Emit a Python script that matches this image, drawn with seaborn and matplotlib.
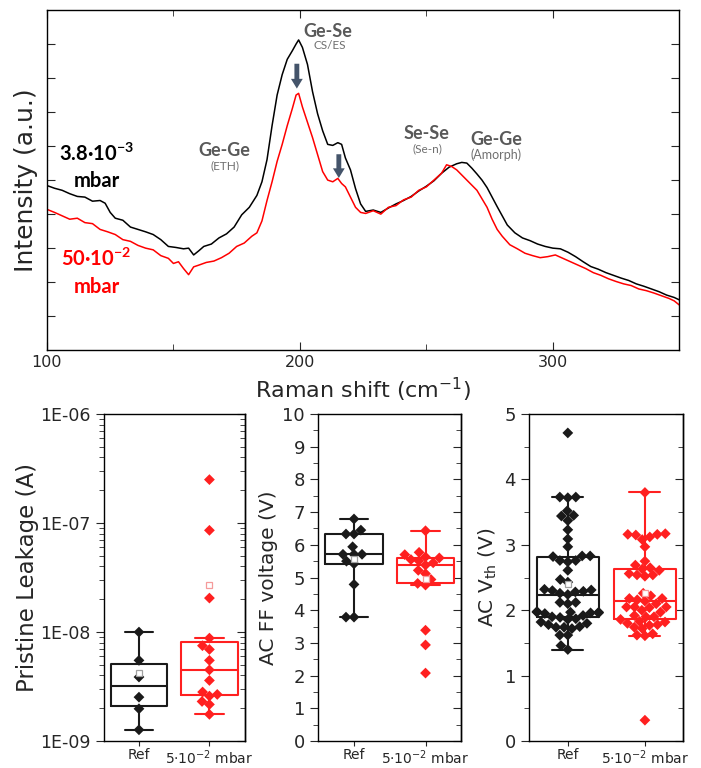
import numpy as np
import pandas as pd
import matplotlib
matplotlib.use('Agg')
import matplotlib.pyplot as plt
import seaborn as sns
from matplotlib.ticker import MultipleLocator, LogLocator, NullFormatter, FixedLocator

# Raman spectra (arbitrary units, 0-10 scale)
shift_low = [100, 103, 106, 109, 112, 115, 118, 121, 123, 125, 127, 130, 133, 136, 139, 142, 145, 148,
             151, 154, 156, 158, 160, 162, 165, 168, 171, 174, 177, 180, 183, 185, 187, 189, 191, 193,
             195, 197, 198.5, 199.5, 201, 203, 205, 207, 209, 211, 213, 215, 216.5, 218, 220, 222, 224,
             226, 229, 232, 235, 238, 241, 244, 247, 250, 253, 256, 259, 262, 264, 266, 268, 270, 272,
             274, 276, 278, 280, 282, 285, 288, 291, 294, 297, 300, 303, 306, 309, 312, 315, 318, 321,
             324, 327, 330, 333, 336, 339, 342, 345, 348, 350]
intensity_low = [4.84, 4.76, 4.70, 4.60, 4.52, 4.50, 4.38, 4.40, 4.32, 4.05, 3.88, 3.82, 3.62, 3.55,
                 3.48, 3.40, 3.25, 3.05, 3.02, 2.98, 3.00, 2.80, 2.92, 3.05, 3.12, 3.30, 3.42, 3.62,
                 3.98, 4.20, 4.55, 4.95, 5.60, 6.60, 7.50, 8.10, 8.55, 8.80, 9.00, 9.12, 8.90, 8.40,
                 7.60, 6.95, 6.45, 6.05, 6.02, 6.10, 6.05, 5.65, 5.30, 4.75, 4.30, 4.08, 4.12, 4.05,
                 4.18, 4.30, 4.40, 4.52, 4.68, 4.82, 4.98, 5.20, 5.38, 5.48, 5.52, 5.50, 5.35, 5.18,
                 5.00, 4.78, 4.50, 4.22, 3.95, 3.68, 3.45, 3.30, 3.22, 3.12, 3.05, 3.00, 2.98, 2.88,
                 2.75, 2.60, 2.46, 2.38, 2.28, 2.20, 2.12, 2.05, 1.95, 1.88, 1.80, 1.72, 1.62, 1.55, 1.48]

shift_high = [100, 103, 106, 109, 112, 115, 118, 121, 124, 127, 130, 133, 136, 139, 142, 145, 148, 150,
              152, 154, 156, 158, 160, 163, 166, 169, 172, 175, 178, 181, 183, 185, 187, 189, 191, 193,
              195, 197, 198.5, 199.5, 201, 203, 205, 207, 209, 211, 213, 215, 216.5, 218, 220, 222, 224,
              226, 229, 232, 235, 238, 241, 244, 247, 250, 253, 256, 258, 260, 262, 264, 266, 268, 270,
              272, 274, 276, 278, 280, 283, 286, 289, 292, 295, 298, 301, 304, 307, 310, 313, 316, 319,
              322, 325, 328, 331, 334, 337, 340, 343, 346, 348, 350]
intensity_high = [4.14, 4.05, 3.95, 3.85, 3.88, 3.75, 3.72, 3.55, 3.48, 3.40, 3.25, 3.20, 3.08, 3.00,
                  2.95, 2.78, 2.70, 2.55, 2.60, 2.40, 2.22, 2.45, 2.50, 2.58, 2.62, 2.72, 2.85, 3.05,
                  3.15, 3.35, 3.45, 3.80, 4.40, 4.95, 5.55, 6.05, 6.60, 7.10, 7.50, 7.55, 7.15, 6.70,
                  6.25, 5.75, 5.25, 5.00, 4.95, 5.05, 4.90, 4.80, 4.50, 4.20, 4.05, 4.02, 4.10, 4.00,
                  4.20, 4.25, 4.42, 4.50, 4.70, 4.80, 5.00, 5.20, 5.45, 5.40, 5.30, 5.15, 5.00, 4.85,
                  4.70, 4.45, 4.20, 3.85, 3.55, 3.35, 3.10, 2.98, 2.85, 2.78, 2.72, 2.75, 2.80, 2.70,
                  2.60, 2.50, 2.40, 2.28, 2.20, 2.10, 2.02, 1.95, 1.90, 1.80, 1.75, 1.68, 1.60, 1.52,
                  1.45, 1.33]

groups = ['Ref', '5·10$^{-2}$ mbar']

# Pristine leakage (A)
leak_ref = [1.0e-8, 5.5e-9, 3.87e-9, 2.53e-9, 1.98e-9, 1.27e-9]
leak_mbar = [2.5e-7, 8.57e-8, 2.05e-8, 8.8e-9, 6.93e-9, 7.5e-9, 5.5e-9, 4.5e-9, 3.6e-9,
             2.68e-9, 2.82e-9, 2.59e-9, 2.31e-9, 2.17e-9, 1.76e-9]

# AC FF voltage (V)
ff_ref = [6.79, 6.33, 6.33, 6.45, 5.94, 5.71, 5.71, 5.71, 5.42, 5.50, 4.79, 3.79, 3.79]
ff_mbar = [6.43, 5.77, 5.70, 5.63, 5.60, 5.55, 5.51, 5.45, 5.38, 5.22, 5.12, 4.94, 4.82, 4.77,
           3.39, 2.94, 2.08]

# AC Vth (V)
vth_ref = [4.71, 3.73, 3.73, 3.72, 3.52, 3.45, 3.44, 3.37, 3.23, 3.09, 2.97, 2.83, 2.83,
           2.82, 2.76, 2.76, 2.74, 2.61, 2.47, 2.43, 2.32, 2.31, 2.30, 2.29, 2.28, 2.26,
           2.24, 2.12, 2.12, 2.10, 1.98, 1.97, 1.97, 1.97, 1.96, 1.96, 1.95, 1.92, 1.90,
           1.89, 1.87, 1.86, 1.82, 1.80, 1.78, 1.75, 1.74, 1.74, 1.72, 1.62, 1.62, 1.46, 1.40]
vth_mbar = [3.80, 3.17, 3.16, 3.16, 3.15, 3.12, 3.08, 2.97, 2.75, 2.69, 2.65,
            2.63, 2.61, 2.56, 2.54, 2.54, 2.52, 2.26, 2.22, 2.18, 2.18, 2.16,
            2.14, 2.10, 2.05, 2.05, 2.05, 2.04, 2.00, 1.97, 1.92, 1.90, 1.90, 1.86,
            1.83, 1.82, 1.80, 1.78, 1.77, 1.74, 1.72, 1.64, 1.62, 1.61, 0.32]

sns.set_style('ticks')
plt.rcParams['font.family'] = ['DejaVu Sans']
plt.rcParams['mathtext.fontset'] = 'custom'
plt.rcParams['mathtext.rm'] = 'DejaVu Sans'
plt.rcParams['mathtext.it'] = 'DejaVu Sans:italic'
plt.rcParams['mathtext.bf'] = 'Lato:bold'
plt.rcParams['axes.linewidth'] = 1.0
plt.rcParams['axes.edgecolor'] = 'black'

fig = plt.figure(figsize=(7.01, 7.68), dpi=100)

# ---------------- Raman spectra ----------------
ax0 = fig.add_axes([0.067, 0.544, 0.902, 0.443])
sns.lineplot(x=shift_low, y=intensity_low, color='black', lw=1.1, sort=False, estimator=None, ax=ax0)
sns.lineplot(x=shift_high, y=intensity_high, color='#ff0000', lw=1.1, sort=False, estimator=None, ax=ax0)
ax0.set_xlim(100, 350)
ax0.set_ylim(0, 10)
ax0.xaxis.set_major_locator(FixedLocator([100, 200, 300]))
ax0.xaxis.set_minor_locator(FixedLocator([150, 250]))
ax0.set_yticks(range(1, 10))
ax0.set_yticklabels([])
ax0.tick_params(which='both', direction='in', top=True, right=True, labelsize=11.5)
ax0.tick_params(which='major', length=6)
ax0.tick_params(which='minor', length=4)
ax0.set_xlabel('Raman shift (cm$^{-1}$)', fontsize=16, labelpad=4)
ax0.set_ylabel('Intensity (a.u.)', fontsize=18, labelpad=3)

peak_col = '#595959'
sub_col = '#6f6f6f'
ax0.text(211.1, 9.37, 'Ge-Se', family='Lato', weight='bold', fontsize=13, color=peak_col, ha='center', va='center')
ax0.text(211.9, 8.97, 'CS/ES', family='Lato', fontsize=8.5, color=sub_col, ha='center', va='center')
ax0.text(170.2, 5.87, 'Ge-Ge', family='Lato', weight='bold', fontsize=13, color=peak_col, ha='center', va='center')
ax0.text(170.4, 5.43, '(ETH)', family='Lato', fontsize=8.5, color=sub_col, ha='center', va='center')
ax0.text(250.2, 6.38, 'Se-Se', family='Lato', weight='bold', fontsize=13, color=peak_col, ha='center', va='center')
ax0.text(250.4, 5.93, '(Se-n)', family='Lato', fontsize=8.5, color=sub_col, ha='center', va='center')
ax0.text(277.5, 6.18, 'Ge-Ge', family='Lato', weight='bold', fontsize=13, color=peak_col, ha='center', va='center')
ax0.text(277.7, 5.74, '(Amorph)', family='Lato', fontsize=9, color=sub_col, ha='center', va='center')

arrow_kw = dict(arrowstyle='simple,head_length=0.7,head_width=0.85,tail_width=0.35',
                fc='#44546a', ec='none', shrinkA=0, shrinkB=0)
ax0.annotate('', xy=(198.8, 7.69), xytext=(198.8, 8.42), arrowprops=arrow_kw)
ax0.annotate('', xy=(215.4, 5.06), xytext=(215.4, 5.76), arrowprops=arrow_kw)

ax0.text(119.5, 5.76, r'$\mathbf{3.8·10^{-3}}$', fontsize=14.5, color='black', ha='center', va='center')
ax0.text(119.7, 4.97, 'mbar', family='Lato', weight='bold', fontsize=14.5, color='black', ha='center', va='center')
ax0.text(119.4, 2.69, r'$\mathbf{50·10^{-2}}$', fontsize=14.5, color='#ff0000', ha='center', va='center')
ax0.text(119.7, 1.87, 'mbar', family='Lato', weight='bold', fontsize=14.5, color='#ff0000', ha='center', va='center')

# ---------------- box panels ----------------
pal = {'Ref': '#1a1a1a', 'mbar': '#ff2020'}
mean_col = {0: '#a0a0a0', 1: '#f59a9a'}


def box_panel(ax, ref_vals, mbar_vals):
    df = pd.DataFrame({'group': ['Ref'] * len(ref_vals) + ['mbar'] * len(mbar_vals),
                       'value': list(ref_vals) + list(mbar_vals)})
    sns.boxplot(data=df, x='group', y='value', hue='group', palette=pal, order=['Ref', 'mbar'],
                fill=False, width=0.8, whis=1.8, showfliers=False, showmeans=True,
                meanprops=dict(marker='s', markersize=4, markerfacecolor='white', markeredgewidth=0.9),
                linewidth=1.5, legend=False, ax=ax)
    sns.swarmplot(data=df, x='group', y='value', hue='group', palette=pal, order=['Ref', 'mbar'],
                  marker='D', size=5.5, linewidth=0, legend=False, ax=ax, zorder=3)
    for ln in ax.lines:
        if ln.get_marker() == 's':
            pos = int(round(np.mean(ln.get_xdata())))
            ln.set_markeredgecolor(mean_col[pos])
            ln.set_zorder(4)
    ax.set_xlim(-0.5, 1.5)
    ax.set_xticks([0, 1], labels=groups)
    ax.set_xlabel('')
    ax.tick_params(axis='x', direction='out', length=3.5, labelsize=10, pad=1.5)
    ax.tick_params(axis='y', which='both', direction='out', left=True, right=False)
    ax.tick_params(axis='y', which='major', length=6)
    ax.tick_params(axis='y', which='minor', length=3.5)
    for sp in ax.spines.values():
        sp.set_visible(True)
        sp.set_linewidth(1.0)


def mirror_ticks(ax, major, minor):
    sec = ax.secondary_yaxis('right')
    sec.yaxis.set_major_locator(major)
    sec.yaxis.set_minor_locator(minor)
    sec.yaxis.set_minor_formatter(NullFormatter())
    sec.tick_params(which='both', direction='in', labelright=False)
    sec.tick_params(which='major', length=6)
    sec.tick_params(which='minor', length=3.5)


ax1 = fig.add_axes([0.148, 0.035, 0.201, 0.426])
box_panel(ax1, leak_ref, leak_mbar)
ax1.set_yscale('log')
ax1.set_ylim(1e-9, 1e-6)
ax1.set_yticks([1e-9, 1e-8, 1e-7, 1e-6], labels=['1E-09', '1E-08', '1E-07', '1E-06'])
ax1.yaxis.set_minor_locator(LogLocator(base=10, subs=np.arange(2, 10)))
ax1.yaxis.set_minor_formatter(NullFormatter())
ax1.tick_params(axis='y', labelsize=12.5)
ax1.set_ylabel('Pristine Leakage (A)', fontsize=16.5, labelpad=1)
mirror_ticks(ax1, FixedLocator([1e-9, 1e-8, 1e-7, 1e-6]), LogLocator(base=10, subs=np.arange(2, 10)))

ax2 = fig.add_axes([0.454, 0.035, 0.204, 0.426])
box_panel(ax2, ff_ref, ff_mbar)
ax2.set_ylim(0, 10)
ax2.yaxis.set_major_locator(MultipleLocator(1))
ax2.yaxis.set_minor_locator(MultipleLocator(0.5))
ax2.tick_params(axis='y', labelsize=13)
ax2.set_ylabel('AC FF voltage (V)', fontsize=14.5, labelpad=3)
mirror_ticks(ax2, MultipleLocator(1), MultipleLocator(0.5))

ax3 = fig.add_axes([0.755, 0.035, 0.220, 0.426])
box_panel(ax3, vth_ref, vth_mbar)
ax3.set_ylim(0, 5)
ax3.yaxis.set_major_locator(MultipleLocator(1))
ax3.yaxis.set_minor_locator(MultipleLocator(0.5))
ax3.tick_params(axis='y', labelsize=13)
ax3.set_ylabel('AC V$_{\\rm th}$ (V)', fontsize=14.5, labelpad=4)
mirror_ticks(ax3, MultipleLocator(1), MultipleLocator(0.5))

fig.savefig('out.png', dpi=100)
